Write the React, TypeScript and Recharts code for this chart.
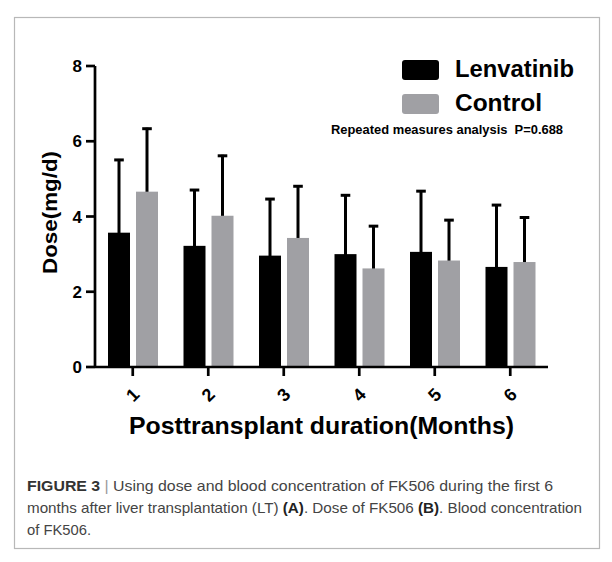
import React from 'react';
import { BarChart, Bar, XAxis, YAxis } from 'recharts';

// values (mean dose, SD shown as upper error only)
const months = ['1', '2', '3', '4', '5', '6'];
const lenvatinibDose = [3.57, 3.22, 2.96, 3.0, 3.06, 2.66];
const lenvatinibSD = [1.96, 1.51, 1.53, 1.59, 1.64, 1.67];
const controlDose = [4.66, 4.02, 3.43, 2.62, 2.83, 2.79];
const controlSD = [1.7, 1.62, 1.4, 1.15, 1.1, 1.21];
const yTicks = [0, 2, 4, 6, 8];

const seriesNames = ['Lenvatinib', 'Control'];
const seriesColors = ['#000000', '#a0a0a4'];

const FONT = '"Liberation Sans", Arial, Helvetica, sans-serif';

const data = months.map((m, i) => ({
  month: m,
  lenvatinib: lenvatinibDose[i],
  lenErr: lenvatinibSD[i],
  control: controlDose[i],
  ctrlErr: controlSD[i],
}));

// bar plus an upper-only SD whisker (Prism style, no cap at the bar top)
const barWithError = (errKey: string) => (props: any) => {
  const { x, y, width, height, fill, payload, value } = props;
  const v = Array.isArray(value) ? value[1] - value[0] : value;
  const pxPerUnit = v ? height / v : 0;
  const top = y - payload[errKey] * pxPerUnit;
  const cx = x + width / 2;
  return (
    <g>
      <line x1={cx} x2={cx} y1={y + 2} y2={top} stroke="#000" strokeWidth={3} />
      <line x1={cx - 4.8} x2={cx + 4.8} y1={top + 1} y2={top + 1} stroke="#000" strokeWidth={3} />
      <rect x={x} y={y} width={width} height={height} fill={fill} />
    </g>
  );
};

const XTick = ({ x, y, payload }: any) => {
  const cy = y + 17;
  return (
    <text
      x={x}
      y={cy}
      transform={`rotate(-45, ${x}, ${cy})`}
      textAnchor="middle"
      dominantBaseline="central"
      fontSize={18}
      fontWeight="bold"
      fontFamily={FONT}
      fill="#000"
    >
      {payload.value}
    </text>
  );
};

const YLabel = ({ viewBox }: any) => {
  const x = 57;
  const y = viewBox.y + viewBox.height / 2 - 4;
  return (
    <text
      x={x}
      y={y}
      transform={`rotate(-90, ${x}, ${y})`}
      textAnchor="middle"
      fontSize={21}
      fontWeight="bold"
      fontFamily={FONT}
      fill="#000"
      textLength={123}
      lengthAdjust="spacingAndGlyphs"
    >
      Dose(mg/d)
    </text>
  );
};

const XLabel = ({ viewBox }: any) => {
  const x = viewBox.x + viewBox.width / 2;
  const y = viewBox.y + 67;
  return (
    <text
      x={x}
      y={y}
      textAnchor="middle"
      fontSize={23}
      fontWeight="bold"
      fontFamily={FONT}
      fill="#000"
      textLength={385}
      lengthAdjust="spacingAndGlyphs"
    >
      Posttransplant duration(Months)
    </text>
  );
};

export default function App() {
  const axisStyle = { stroke: '#000', strokeWidth: 2.7 };
  return (
    <div style={{ position: 'absolute', left: 0, top: 0, width: 612, height: 562, background: '#fff' }}>
      <div style={{ position: 'absolute', left: 0, top: 0 }}>
        <BarChart
          width={612}
          height={450}
          data={data}
          margin={{ top: 66, right: 64, left: 0, bottom: 0 }}
          barSize={22}
          barGap={6}
        >
          <XAxis
            dataKey="month"
            height={83}
            axisLine={axisStyle}
            tickLine={axisStyle}
            tickSize={9}
            tick={<XTick />}
            interval={0}
            label={<XLabel />}
          />
          <YAxis
            width={95}
            domain={[0, 8]}
            ticks={yTicks}
            axisLine={axisStyle}
            tickLine={axisStyle}
            tickSize={9}
            tickMargin={4}
            tick={{ fill: '#000', fontSize: 17, fontWeight: 'bold', fontFamily: FONT }}
            label={<YLabel />}
          />
          <Bar
            dataKey="lenvatinib"
            name={seriesNames[0]}
            fill={seriesColors[0]}
            shape={barWithError('lenErr')}
            isAnimationActive={false}
          />
          <Bar
            dataKey="control"
            name={seriesNames[1]}
            fill={seriesColors[1]}
            shape={barWithError('ctrlErr')}
            isAnimationActive={false}
          />
        </BarChart>
      </div>
      <svg
        width={612}
        height={562}
        style={{ position: 'absolute', left: 0, top: 0, pointerEvents: 'none' }}
        fontFamily={FONT}
      >
        <rect x={14.5} y={17.5} width={585} height={531} fill="none" stroke="#b8b8b8" strokeWidth={1.2} />
        {/* legend */}
        {seriesNames.map((name, i) => (
          <g key={name}>
            <rect x={402} y={60 + i * 34} width={37} height={20} rx={3} fill={seriesColors[i]} />
            <text
              x={455}
              y={77 + i * 34}
              fontSize={23}
              fontWeight="bold"
              fill="#000"
              textLength={i === 0 ? 119 : 87}
              lengthAdjust="spacingAndGlyphs"
            >
              {name}
            </text>
          </g>
        ))}
        <text
          x={331}
          y={134}
          fontSize={13.5}
          fontWeight="bold"
          fill="#000"
          textLength={232}
          lengthAdjust="spacingAndGlyphs"
          style={{ whiteSpace: 'pre' }}
        >
          {'Repeated measures analysis  P=0.688'}
        </text>
        {/* caption */}
        <text x={27} y={491} fontSize={15} fill="#444" textLength={526} lengthAdjust="spacingAndGlyphs" style={{ whiteSpace: 'pre' }}>
          <tspan fontWeight="bold" fill="#333">FIGURE 3</tspan>
          <tspan fill="#999">{' | '}</tspan>
          <tspan>Using dose and blood concentration of FK506 during the first 6</tspan>
        </text>
        <text x={27} y={513} fontSize={15} fill="#444" textLength={555} lengthAdjust="spacingAndGlyphs" style={{ whiteSpace: 'pre' }}>
          <tspan>{'months after liver transplantation (LT) '}</tspan>
          <tspan fontWeight="bold" fill="#222">(A)</tspan>
          <tspan>{'. Dose of FK506 '}</tspan>
          <tspan fontWeight="bold" fill="#222">(B)</tspan>
          <tspan>. Blood concentration</tspan>
        </text>
        <text x={27} y={535} fontSize={15} fill="#444" textLength={64} lengthAdjust="spacingAndGlyphs">
          of FK506.
        </text>
      </svg>
    </div>
  );
}
